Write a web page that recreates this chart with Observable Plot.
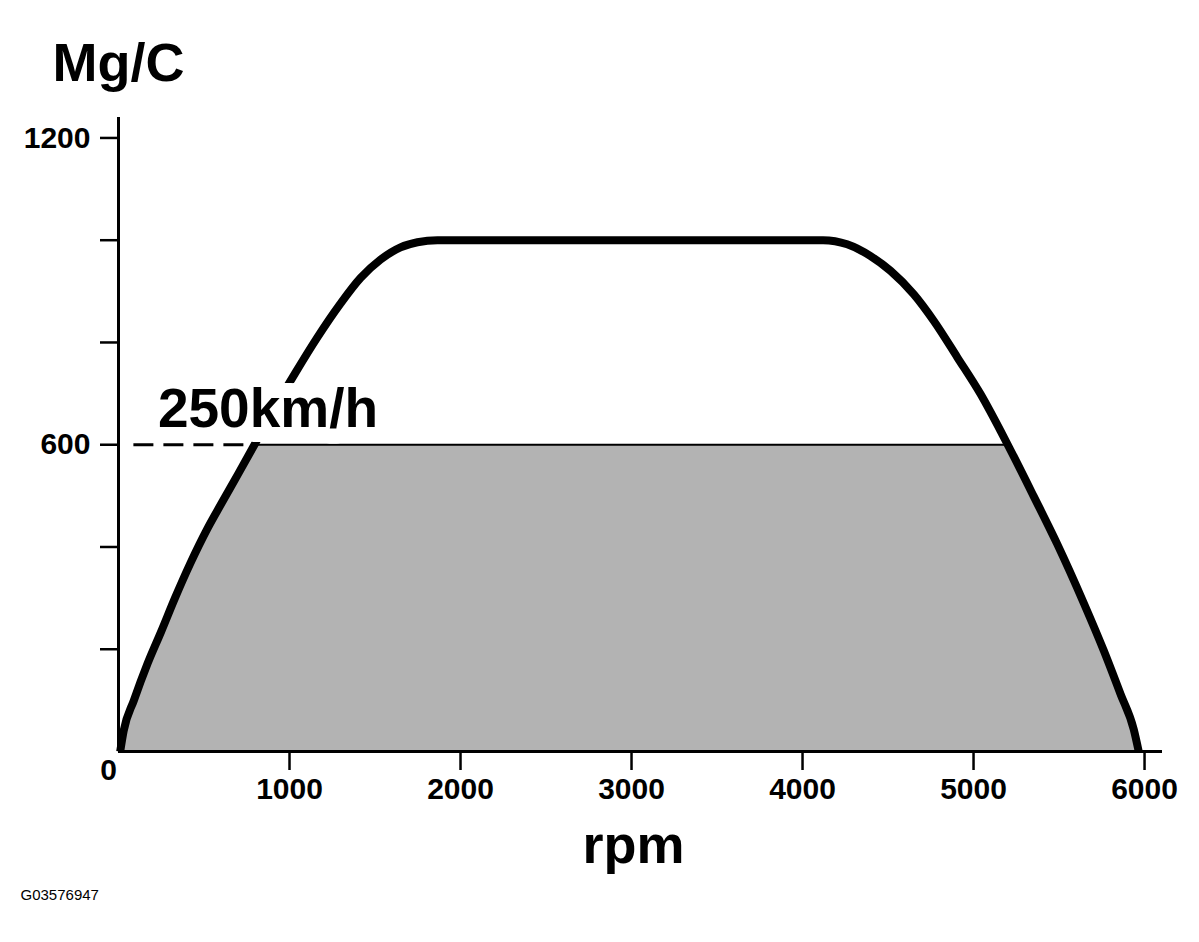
<!DOCTYPE html>
<html>
<head>
<meta charset="utf-8">
<script src="https://cdn.jsdelivr.net/npm/d3@7"></script>
<script src="https://cdn.jsdelivr.net/npm/@observablehq/plot@0.6"></script>
<style>
  html, body { margin: 0; padding: 0; background: #fff; }
</style>
</head>
<body>
<div id="chart"></div>
<script>
// ---- data ----
const rpm    = [10, 30, 90, 170, 250, 330, 420, 520, 600, 700, 795, 900, 1035, 1163, 1298, 1415, 1532, 1649, 1748, 1865, 4120, 4261, 4398, 4515, 4651, 4768, 4905, 5041, 5158, 5200, 5352, 5489, 5645, 5762, 5860, 5937, 5966];
const torque = [0, 40, 100, 172, 235, 300, 368, 436, 484, 543, 600, 664, 741, 810, 876, 926, 962, 986, 996, 1000, 1000, 992, 969, 940, 894, 842, 771, 699, 627, 600, 499, 406, 290, 197, 112, 43, 0];
const xTicks = [1000, 2000, 3000, 4000, 5000, 6000];
const yTicks = [200, 400, 600, 800, 1000, 1200];
const yTickLabels = [600, 1200];
const limitValue = 600;
const limitLabel = "250km/h";
const dashStartRpm = 90;
const yTitle = "Mg/C";
const xTitle = "rpm";
const originLabel = "0";
const code = "G03576947";

const data = rpm.map((r, i) => ({rpm: r, torque: torque[i]}));
const above = data.filter(d => d.torque >= limitValue);
const crossLeft = d3.min(above, d => d.rpm);

const font = "'Liberation Sans', Arial, sans-serif";

const chart = Plot.plot({
  width: 1199,
  height: 942,
  marginLeft: 118,
  marginRight: 37,
  marginTop: 117,
  marginBottom: 191,
  style: {fontFamily: font, fontWeight: "bold", background: "#fff", color: "#000"},
  x: {domain: [0, 6105]},
  y: {domain: [0, 1240]},
  marks: [
    Plot.areaY(data, {x: "rpm", y: d => Math.min(d.torque, limitValue), fill: "#b3b3b3", curve: "monotone-x"}),
    Plot.line(above, {x: "rpm", y: () => limitValue, stroke: "#000", strokeWidth: 2}),
    Plot.ruleY([limitValue], {x1: dashStartRpm, x2: crossLeft, stroke: "#000", strokeWidth: 3, strokeDasharray: "20,10"}),
    Plot.line(data, {x: "rpm", y: "torque", stroke: "#000", strokeWidth: 8, curve: "monotone-x", strokeLinecap: "butt"}),
    Plot.text([limitLabel], {x: dashStartRpm, y: limitValue, text: d => d, dx: 24, dy: -18, textAnchor: "start", lineAnchor: "bottom", fontSize: 55, fill: "#000", stroke: "#fff", strokeWidth: 30}),
    Plot.ruleX([0], {stroke: "#000", strokeWidth: 3}),
    Plot.ruleY([0], {stroke: "#000", strokeWidth: 3}),
    Plot.axisY({ticks: yTicks, tickSize: 18, tickPadding: 10, strokeWidth: 2.5, fontSize: 30, label: null,
      tickFormat: d => yTickLabels.includes(d) ? String(d) : ""}),
    Plot.axisX({ticks: xTicks, tickSize: 19, tickPadding: 7, strokeWidth: 2.5, fontSize: 30, label: null,
      tickFormat: d => String(d)}),
    Plot.text([yTitle], {frameAnchor: "top-left", text: d => d, dx: -66, dy: -37, textAnchor: "start", lineAnchor: "bottom", fontSize: 54}),
    Plot.text([xTitle], {frameAnchor: "bottom", text: d => d, dx: -7, dy: 111, textAnchor: "middle", lineAnchor: "bottom", fontSize: 54}),
    Plot.text([originLabel], {frameAnchor: "bottom-left", text: d => d, dx: -10, dy: 7, textAnchor: "middle", lineAnchor: "top", fontSize: 30}),
    Plot.text([code], {frameAnchor: "bottom-left", text: d => d, dx: -98, dy: 148, textAnchor: "start", lineAnchor: "bottom", fontSize: 15, fontWeight: "normal"})
  ]
});
document.getElementById("chart").appendChild(chart);
</script>
</body>
</html>
